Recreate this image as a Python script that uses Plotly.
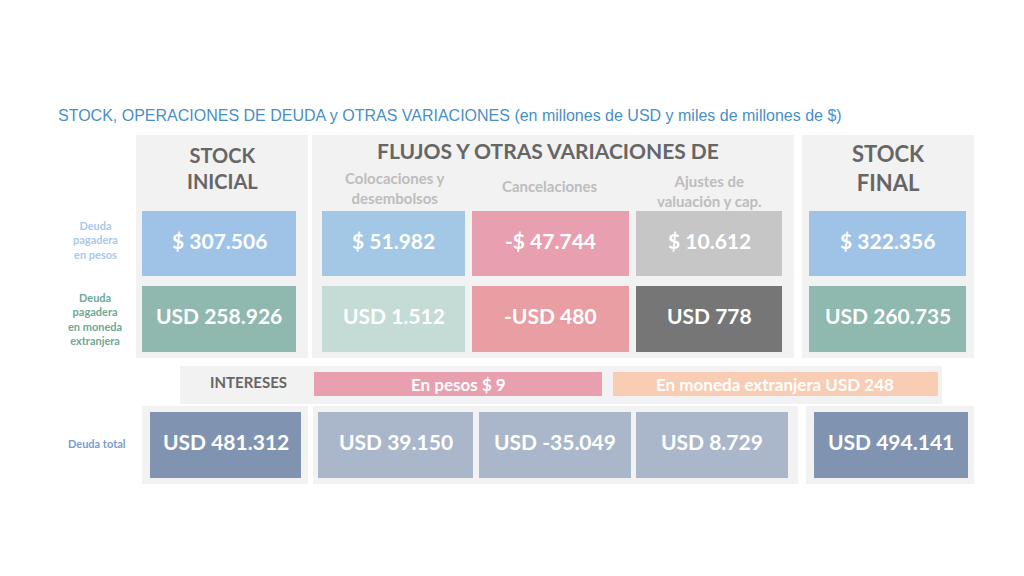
import plotly.graph_objects as go

# datos
columnas = ["STOCK<br>INICIAL", "Colocaciones y<br>desembolsos", "Cancelaciones",
            "Ajustes de<br>valuación y cap.", "STOCK<br>FINAL"]
filas = ["Deuda<br>pagadera<br>en pesos", "Deuda<br>pagadera<br>en moneda<br>extranjera", "Deuda total"]
deuda_pesos = ["$ 307.506", "$ 51.982", "-$ 47.744", "$ 10.612", "$ 322.356"]
deuda_me = ["USD 258.926", "USD 1.512", "-USD 480", "USD 778", "USD 260.735"]
deuda_total = ["USD 481.312", "USD 39.150", "USD -35.049", "USD 8.729", "USD 494.141"]
intereses = ["En pesos $ 9", "En moneda extranjera USD 248"]

col_pesos = ["#9fc3e7", "#a2c8e6", "#e8a0b0", "#c6c6c6", "#9fc3e7"]
col_me = ["#8fb8ae", "#c4dbd6", "#e89ea2", "#767676", "#8fb8ae"]
col_total = ["#8094b2", "#aab7cb", "#aab7cb", "#aab7cb", "#8094b2"]

fig = go.Figure()
shapes = []
anns = []

def caja(x0, y0, x1, y1, color, r=6):
    shapes.append(dict(type="rect", x0=x0, x1=x1, y0=y0, y1=y1, fillcolor=color,
                       line=dict(width=0), layer="below"))

def texto(x, y, t, size, color, bold=True, xanchor="center"):
    anns.append(dict(x=x, y=y, text=("<b>%s</b>" % t) if bold else t, showarrow=False,
                     xanchor=xanchor, font=dict(size=size, color=color, family="Lato")))

# paneles de fondo
for p in [(128, 127, 300, 350), (304, 127, 786, 350), (794, 127, 966, 350),
          (172, 358, 934, 396), (134, 398, 300, 476), (305, 398, 790, 476), (798, 398, 966, 476)]:
    caja(*p, "#f2f2f2")

xs_top = [(134, 288), (314, 457), (464, 621), (628, 774), (801, 958)]
xs_tot = [(142, 293), (310, 465), (471, 623), (628, 780), (806, 960)]

for i in range(5):
    x0, x1 = xs_top[i]
    caja(x0, 203, x1, 268, col_pesos[i])
    texto((x0 + x1) / 2, 232, deuda_pesos[i], 21, "white")
    caja(x0, 278, x1, 344, col_me[i])
    texto((x0 + x1) / 2, 307, deuda_me[i], 21, "white")
    x0, x1 = xs_tot[i]
    caja(x0, 404, x1, 470, col_total[i])
    texto((x0 + x1) / 2, 433, deuda_total[i], 21, "white")

# encabezados
texto(214, 160, columnas[0], 20, "#666666")
texto(880, 160, columnas[4], 22, "#666666")
texto(540, 142, "FLUJOS Y OTRAS VARIACIONES DE", 21, "#666666")
texto(387, 180, columnas[1], 15, "#bdbdbd")
texto(542, 178, columnas[2], 15, "#bdbdbd")
texto(701, 183, columnas[3], 15, "#bdbdbd")

# filas
texto(87, 232, filas[0], 11, "#a9c9ea")
texto(87, 311, filas[1], 11, "#6fa898")
texto(89, 435, filas[2], 11, "#7a9bd0")

# intereses
texto(240, 374, "INTERESES", 15, "#666666")
caja(306, 364, 594, 388, "#e8a0b0")
texto(450, 376, intereses[0], 17, "white")
caja(605, 364, 930, 388, "#f9cdb3")
texto(767, 376, intereses[1], 17, "white")

texto(48, 107, "STOCK, OPERACIONES DE DEUDA y OTRAS VARIACIONES (en millones de USD y miles de millones de $)",
      16, "#4a8fc4", bold=False, xanchor="left")
anns[-1]["font"]["family"] = "Liberation Sans"

fig.update_layout(width=1024, height=576, margin=dict(l=0, r=0, t=0, b=0),
                  plot_bgcolor="white", paper_bgcolor="white", showlegend=False,
                  shapes=shapes, annotations=anns,
                  xaxis=dict(range=[0, 1024], visible=False),
                  yaxis=dict(range=[576, 0], visible=False))
fig.write_html("out.html")
